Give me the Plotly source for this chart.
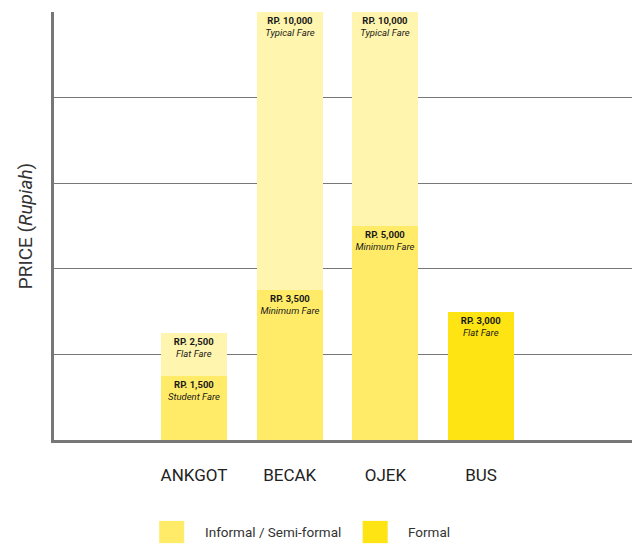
import plotly.graph_objects as go

# Fare data (Indonesian Rupiah)
modes = ["ANKGOT", "BECAK", "OJEK", "BUS"]
mode_pos = [1, 2, 3, 4]
low_fares = [1500, 3500, 5000, 3000]
low_labels = ["Student Fare", "Minimum Fare", "Minimum Fare", "Flat Fare"]
high_fares = [2500, 10000, 10000, None]
high_labels = ["Flat Fare", "Typical Fare", "Typical Fare", ""]
is_formal = [False, False, False, True]

C_PALE = "#FFF5AE"
C_INFORMAL = "#FFEB68"
C_FORMAL = "#FFE414"
GRID = "#777777"
FONT = "Roboto, sans-serif"


def fare_text(v, label):
    if v is None:
        return ""
    return f"<b>RP. {v:,}</b><br><i>{label}</i>"


fig = go.Figure()

# upper (typical / flat) fares drawn first, lower fares overlaid on top
fig.add_trace(go.Bar(
    x=mode_pos, y=high_fares, width=0.69,
    marker=dict(color=C_PALE, line=dict(width=0)),
    text=[fare_text(v, l) for v, l in zip(high_fares, high_labels)],
    textposition="inside", insidetextanchor="end", constraintext="none",
    textangle=0,
    textfont=dict(family=FONT, size=9.5, color="#1a1a1a"),
    showlegend=False, hoverinfo="skip",
))
fig.add_trace(go.Bar(
    x=mode_pos, y=low_fares, width=0.69,
    marker=dict(color=[C_FORMAL if f else C_INFORMAL for f in is_formal],
                line=dict(width=0)),
    text=[fare_text(v, l) for v, l in zip(low_fares, low_labels)],
    textposition="inside", insidetextanchor="end", constraintext="none",
    textangle=0,
    textfont=dict(family=FONT, size=9.5, color="#1a1a1a"),
    showlegend=False, hoverinfo="skip",
))

# custom legend swatches at the bottom
legend_items = [("Informal / Semi-formal", C_INFORMAL, 0.182), ("Formal", C_FORMAL, 0.534)]
for name, color, x0 in legend_items:
    fig.add_shape(type="rect", xref="paper", yref="paper",
                  x0=x0, x1=x0 + 0.0433, y0=-0.241, y1=-0.189,
                  fillcolor=color, line=dict(width=0))
    fig.add_annotation(xref="paper", yref="paper", x=x0 + 0.075, y=-0.215,
                       text=name, showarrow=False, xanchor="left", yanchor="middle",
                       font=dict(family=FONT, size=13.5, color="#333333"))

fig.update_layout(
    width=632, height=544,
    margin=dict(l=54, r=0, t=12, b=104),
    barmode="overlay", bargap=0,
    plot_bgcolor="white", paper_bgcolor="white",
    font=dict(family=FONT, color="#222222"),
)
fig.update_xaxes(
    range=[-0.463, 5.577], tickvals=mode_pos, ticktext=modes,
    tickfont=dict(family=FONT, size=17, color="#222222"),
    ticks="", ticklabelstandoff=18,
    showgrid=False, showline=True, linecolor=GRID, linewidth=3, zeroline=False,
)
fig.update_yaxes(
    range=[0, 10000], dtick=2000, showticklabels=False, ticks="",
    showgrid=True, gridcolor=GRID, gridwidth=1.2,
    showline=True, linecolor=GRID, linewidth=3, zeroline=False,
    title=dict(text="PRICE (<i>Rupiah</i>)", standoff=14,
               font=dict(family=FONT, size=19, color="#333333")),
)

fig.write_html("out.html")
